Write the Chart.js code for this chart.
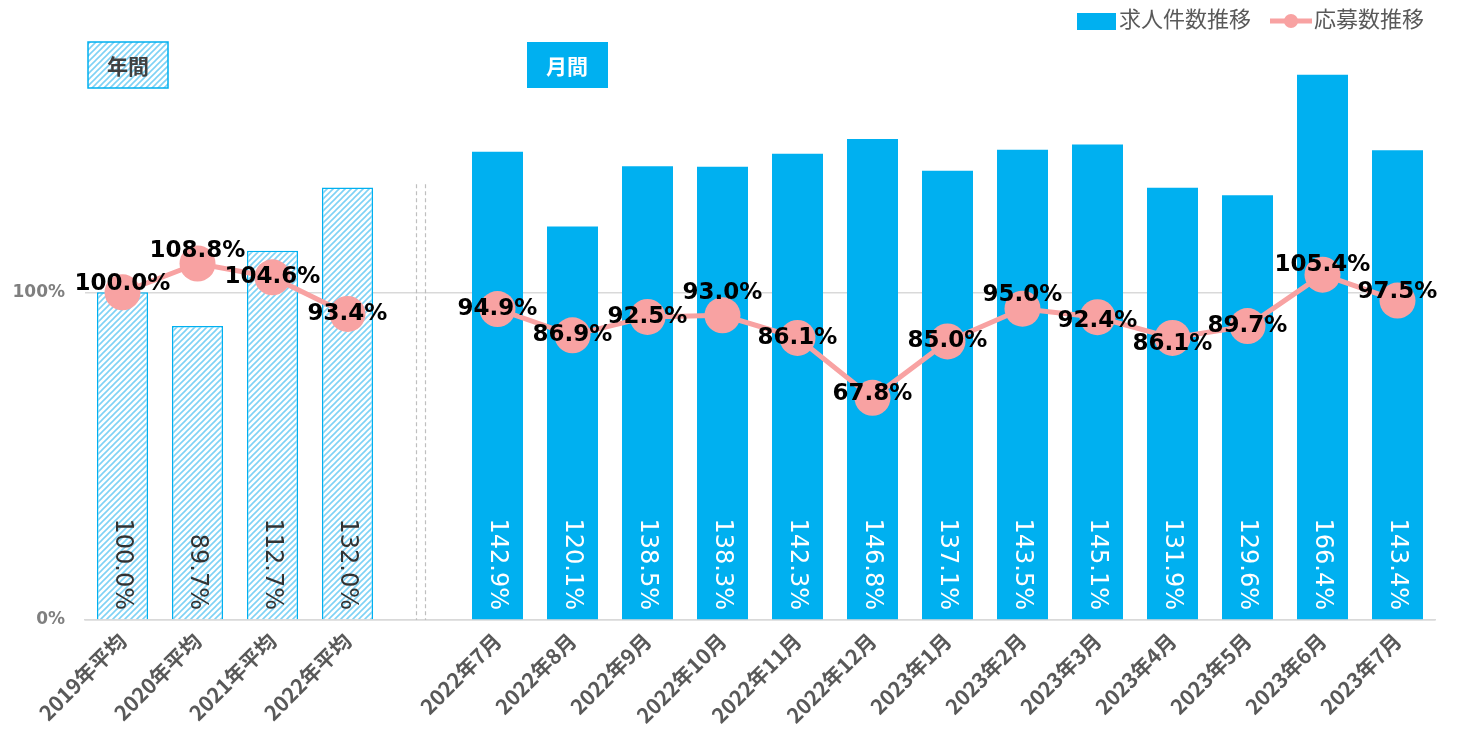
<!DOCTYPE html>
<html>
<head>
<meta charset="utf-8">
<script src="https://cdn.jsdelivr.net/npm/chart.js"></script>
<style>
  body { margin: 0; background: #fff; }
</style>
</head>
<body>
<canvas id="chart" width="1457" height="729"></canvas>
<script>
const labels = ['2019年平均', '2020年平均', '2021年平均', '2022年平均', '',
    '2022年7月', '2022年8月', '2022年9月', '2022年10月', '2022年11月', '2022年12月',
    '2023年1月', '2023年2月', '2023年3月', '2023年4月', '2023年5月', '2023年6月', '2023年7月'];
const jobValues = [100.0, 89.7, 112.7, 132.0, null,
    142.9, 120.1, 138.5, 138.3, 142.3, 146.8, 137.1, 143.5, 145.1, 131.9, 129.6, 166.4, 143.4];
const applyValues = [100.0, 108.8, 104.6, 93.4, null,
    94.9, 86.9, 92.5, 93.0, 86.1, 67.8, 85.0, 95.0, 92.4, 86.1, 89.7, 105.4, 97.5];
const yTicks = [0, 100];
const annualCount = 4;

// small nudges for the line labels (px, vertical)
const lineLabelDy = [-8, -12, 0, 0, 0, 0, 0, 0, -22, 0, -4, 0, -14, 4, 6, 0, -10, -8];

const BLUE = '#00B0F0';
const PINK = '#F8A2A2';
const JP = '"Noto Sans CJK JP", "Noto Sans", sans-serif';
const NUM = '"DejaVu Sans", sans-serif';

function makeHatch() {
    const c = document.createElement('canvas');
    c.width = 6; c.height = 6;
    const g = c.getContext('2d');
    g.fillStyle = '#fff';
    g.fillRect(0, 0, 6, 6);
    g.strokeStyle = '#7FD2F5';
    g.lineWidth = 1.6;
    g.beginPath();
    g.moveTo(-1, 7); g.lineTo(7, -1);
    g.moveTo(-4, 4); g.lineTo(4, -4);
    g.moveTo(2, 10); g.lineTo(10, 2);
    g.stroke();
    return document.getElementById('chart').getContext('2d').createPattern(c, 'repeat');
}
const hatch = makeHatch();

const barBg = labels.map((l, i) => i < annualCount ? hatch : BLUE);
const barBorder = labels.map((l, i) => i < annualCount ? BLUE : 'rgba(0,0,0,0)');
const barBorderW = labels.map((l, i) => i < annualCount ? 1.5 : 0);

const extras = {
    id: 'extras',
    afterDatasetsDraw(chart) {
        const ctx = chart.ctx;
        const xs = chart.scales.x, ys = chart.scales.y;

        // bar value labels (rotated, inside base)
        const bars = chart.getDatasetMeta(0).data;
        ctx.save();
        ctx.font = '24px ' + NUM;
        ctx.textAlign = 'right';
        ctx.textBaseline = 'middle';
        bars.forEach((bar, i) => {
            if (jobValues[i] == null) return;
            ctx.save();
            ctx.translate(bar.x, ys.getPixelForValue(0) - 10);
            ctx.rotate(Math.PI / 2);
            ctx.fillStyle = i < annualCount ? '#333333' : '#ffffff';
            ctx.fillText(jobValues[i].toFixed(1) + '%', 0, 0);
            ctx.restore();
        });
        ctx.restore();

        // line value labels
        const pts = chart.getDatasetMeta(1).data;
        ctx.save();
        ctx.font = 'bold 23px ' + NUM;
        ctx.textAlign = 'center';
        ctx.textBaseline = 'middle';
        ctx.fillStyle = '#000';
        pts.forEach((p, i) => {
            if (applyValues[i] == null) return;
            ctx.fillText(applyValues[i].toFixed(1) + '%', p.x, p.y + lineLabelDy[i]);
        });
        ctx.restore();

        // dashed separator between annual and monthly
        const gx = xs.getPixelForValue(annualCount);
        ctx.save();
        ctx.strokeStyle = '#BFBFBF';
        ctx.lineWidth = 1.2;
        ctx.setLineDash([4, 3]);
        [gx - 6, gx + 3].forEach(x => {
            ctx.beginPath();
            ctx.moveTo(x, ys.getPixelForValue(133));
            ctx.lineTo(x, ys.getPixelForValue(0));
            ctx.stroke();
        });
        ctx.restore();
    },
    afterDraw(chart) {
        const ctx = chart.ctx;
        ctx.save();
        // section boxes
        ctx.fillStyle = hatch;
        ctx.fillRect(88, 42, 80, 46);
        ctx.strokeStyle = BLUE;
        ctx.lineWidth = 1.5;
        ctx.strokeRect(88, 42, 80, 46);
        ctx.fillStyle = BLUE;
        ctx.fillRect(527, 42, 81, 46);
        ctx.font = 'bold 21px ' + JP;
        ctx.textAlign = 'center';
        ctx.textBaseline = 'middle';
        ctx.fillStyle = '#404040';
        ctx.fillText('年間', 128, 66);
        ctx.fillStyle = '#ffffff';
        ctx.fillText('月間', 567, 66);

        // legend
        ctx.fillStyle = BLUE;
        ctx.fillRect(1077, 13, 39, 17);
        ctx.strokeStyle = PINK;
        ctx.lineWidth = 5;
        ctx.beginPath();
        ctx.moveTo(1270, 21);
        ctx.lineTo(1312, 21);
        ctx.stroke();
        ctx.fillStyle = PINK;
        ctx.beginPath();
        ctx.arc(1291, 21, 7, 0, Math.PI * 2);
        ctx.fill();
        ctx.font = '22px ' + JP;
        ctx.textAlign = 'left';
        ctx.fillStyle = '#595959';
        ctx.fillText('求人件数推移', 1119, 19);
        ctx.fillText('応募数推移', 1314, 19);
        ctx.restore();
    }
};

new Chart(document.getElementById('chart').getContext('2d'), {
    data: {
        labels: labels,
        datasets: [
            {
                type: 'bar',
                label: '求人件数推移',
                data: jobValues,
                backgroundColor: barBg,
                borderColor: barBorder,
                borderWidth: barBorderW,
                barPercentage: 0.68,
                categoryPercentage: 1.0,
                order: 2
            },
            {
                type: 'line',
                label: '応募数推移',
                data: applyValues,
                borderColor: PINK,
                backgroundColor: PINK,
                borderWidth: 5,
                pointRadius: 18,
                pointBorderWidth: 0,
                pointHoverRadius: 18,
                spanGaps: false,
                order: 1
            }
        ]
    },
    options: {
        responsive: false,
        devicePixelRatio: 1,
        animation: false,
        layout: { padding: { top: 28, right: 22, left: 0, bottom: 0 } },
        plugins: {
            legend: { display: false },
            tooltip: { enabled: false }
        },
        scales: {
            x: {
                grid: { display: false },
                border: { color: '#D9D9D9', width: 1.5 },
                ticks: {
                    maxRotation: 45,
                    minRotation: 45,
                    color: '#595959',
                    font: { family: JP, size: 21, weight: 'bold' },
                    padding: 0
                },
                afterFit(scale) { scale.height = 109; }
            },
            y: {
                min: 0,
                max: 180,
                afterBuildTicks(scale) { scale.ticks = yTicks.map(v => ({ value: v })); },
                grid: { color: '#D9D9D9', lineWidth: 1.5, drawTicks: false },
                border: { display: false },
                ticks: {
                    color: '#7F7F7F',
                    font: { family: NUM, size: 17, weight: 'bold' },
                    padding: 20,
                    callback: v => v + '%'
                },
                afterFit(scale) { scale.width = 85; }
            }
        }
    },
    plugins: [extras]
});
</script>
</body>
</html>
